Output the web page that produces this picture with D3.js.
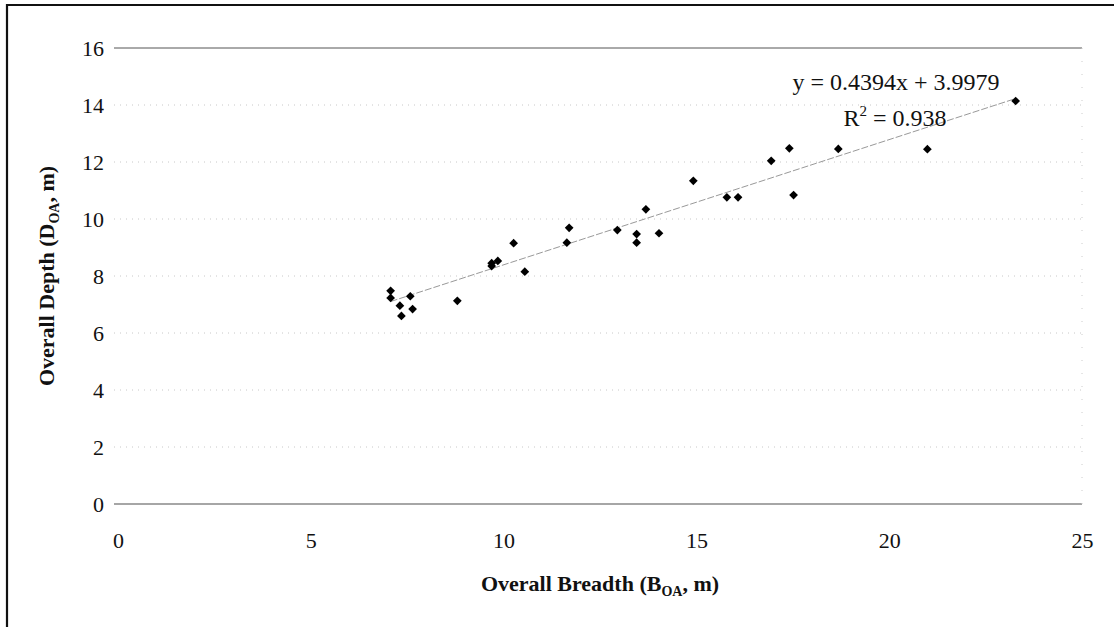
<!DOCTYPE html>
<html>
<head>
<meta charset="utf-8">
<script src="https://cdn.jsdelivr.net/npm/d3@7"></script>
<style>
  body { margin: 0; background: #fff; }
  svg text { font-family: "Liberation Serif", "Times New Roman", serif !important; fill: #111; }
</style>
</head>
<body>
<svg width="1114" height="627"></svg>
<script>
(function (d3) {
  'use strict';

  // overall breadth (m) and overall depth (m)
  const breadth = [7.07, 7.07, 7.31, 7.35, 7.58, 7.64, 8.80, 9.69, 9.69, 9.85,
    10.26, 10.55, 11.70, 11.64, 12.95, 13.69, 13.45, 13.45, 14.03, 14.92,
    15.79, 16.08, 16.94, 17.41, 17.52, 18.68, 20.99, 23.28];
  const depth = [7.48, 7.23, 6.96, 6.60, 7.29, 6.84, 7.13, 8.45, 8.35, 8.53,
    9.15, 8.15, 9.69, 9.17, 9.61, 10.34, 9.47, 9.17, 9.50, 11.34,
    10.76, 10.76, 12.04, 12.48, 10.84, 12.46, 12.45, 14.14];
  const xTicks = [0, 5, 10, 15, 20, 25];
  const yTicks = [0, 2, 4, 6, 8, 10, 12, 14, 16];
  const slope = 0.4394;
  const intercept = 3.9979;
  const rSquared = '0.938';

  const data = breadth.map((b, i) => ({ b: b, d: depth[i] }));

  const svg = d3.select('svg');
  const width = +svg.attr('width');
  const height = +svg.attr('height');

  // scanned frame round the chart
  svg.append('path')
      .attr('d', `M7,${height} V5 H${width}`)
      .attr('fill', 'none')
      .attr('stroke', '#111')
      .attr('stroke-width', 2.2);

  const xScale = d3.scaleLinear().domain([0, 25]).range([118, 1082]);
  const yScale = d3.scaleLinear().domain([0, 16]).range([504, 48]);

  const grid = svg.append('g');
  grid.selectAll('line').data(yTicks)
    .enter().append('line')
      .attr('x1', xScale(0) - 4)
      .attr('x2', xScale(25))
      .attr('y1', d => yScale(d))
      .attr('y2', d => yScale(d))
      .attr('stroke', d => d === 16 ? '#555' : d === 0 ? '#888' : '#c8c8c8')
      .attr('stroke-width', d => d === 0 ? 1.5 : 1)
      .attr('stroke-dasharray', d => (d === 0 || d === 16) ? null : '1,5');

  // faint right edge of the plot area
  grid.append('line')
      .attr('x1', xScale(25)).attr('x2', xScale(25))
      .attr('y1', yScale(16)).attr('y2', yScale(0))
      .attr('stroke', '#ccc')
      .attr('stroke-dasharray', '1,12');

  const yAxisG = svg.append('g')
      .attr('transform', `translate(${xScale(0) - 14},0)`)
      .call(d3.axisLeft(yScale).tickValues(yTicks).tickSize(0).tickPadding(0))
      .attr('font-family', null)
      .attr('font-size', 22);
  yAxisG.select('.domain').remove();

  const xAxisG = svg.append('g')
      .attr('transform', `translate(0,${yScale(0) + 28})`)
      .call(d3.axisBottom(xScale).tickValues(xTicks).tickSize(0).tickPadding(0))
      .attr('font-family', null)
      .attr('font-size', 22);
  xAxisG.select('.domain').remove();

  // linear trendline
  const xExt = d3.extent(breadth);
  svg.append('line')
      .attr('x1', xScale(xExt[0]))
      .attr('y1', yScale(slope * xExt[0] + intercept))
      .attr('x2', xScale(xExt[1]))
      .attr('y2', yScale(slope * xExt[1] + intercept))
      .attr('stroke', '#999')
      .attr('stroke-width', 1)
      .attr('stroke-dasharray', '7,2');

  const diamond = d3.symbol().type(d3.symbolSquare).size(38);
  svg.selectAll('path.pt').data(data)
    .enter().append('path')
      .attr('class', 'pt')
      .attr('d', diamond)
      .attr('transform', d => `translate(${xScale(d.b)},${yScale(d.d)}) rotate(45)`)
      .attr('fill', '#000');

  // equation and R squared
  svg.append('text')
      .attr('x', 896).attr('y', 90)
      .attr('text-anchor', 'middle')
      .attr('font-size', 24)
      .text(`y = ${slope}x + ${intercept}`);

  const r2 = svg.append('text')
      .attr('x', 895).attr('y', 126)
      .attr('text-anchor', 'middle')
      .attr('font-size', 24);
  r2.append('tspan').text('R');
  r2.append('tspan').attr('font-size', 15).attr('dy', -10).text('2');
  r2.append('tspan').attr('dy', 10).text(` = ${rSquared}`);

  // axis titles
  const xt = svg.append('text')
      .attr('x', (xScale(0) + xScale(25)) / 2)
      .attr('y', 591)
      .attr('text-anchor', 'middle')
      .attr('font-size', 22)
      .attr('font-weight', 'bold');
  xt.append('tspan').text('Overall Breadth (B');
  xt.append('tspan').attr('font-size', 14).attr('dy', 5).text('OA');
  xt.append('tspan').attr('dy', -5).text(', m)');

  const yt = svg.append('text')
      .attr('transform', `translate(54,${(yScale(0) + yScale(16)) / 2}) rotate(-90)`)
      .attr('text-anchor', 'middle')
      .attr('font-size', 22)
      .attr('font-weight', 'bold');
  yt.append('tspan').text('Overall Depth (D');
  yt.append('tspan').attr('font-size', 14).attr('dy', 5).text('OA');
  yt.append('tspan').attr('dy', -5).text(', m)');

}(d3));
</script>
</body>
</html>
